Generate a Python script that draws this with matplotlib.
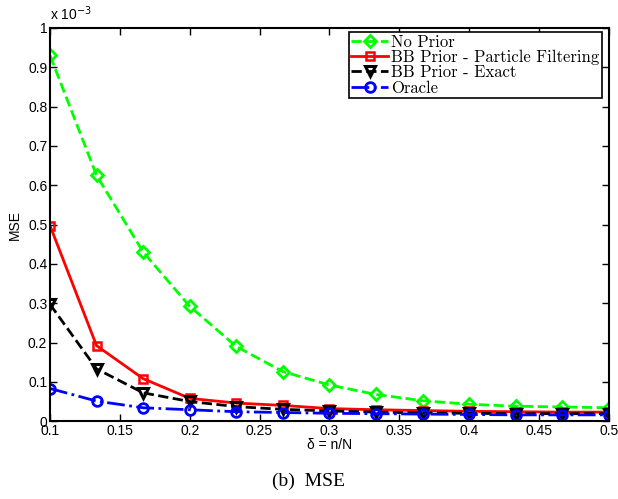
import numpy as np
import matplotlib
matplotlib.use('Agg')
import matplotlib.pyplot as plt

# values, in units of 1e-3
delta = [0.1, 0.1333, 0.1667, 0.2, 0.2333, 0.2667, 0.3, 0.3333, 0.3667, 0.4, 0.4333, 0.4667, 0.5]
no_prior = [0.93, 0.625, 0.43, 0.292, 0.19, 0.126, 0.092, 0.068, 0.052, 0.043, 0.038, 0.036, 0.034]
bb_pf = [0.497, 0.192, 0.108, 0.058, 0.046, 0.040, 0.032, 0.029, 0.027, 0.025, 0.024, 0.023, 0.023]
bb_exact = [0.297, 0.133, 0.072, 0.050, 0.037, 0.030, 0.026, 0.023, 0.021, 0.020, 0.019, 0.019, 0.019]
oracle = [0.083, 0.051, 0.034, 0.029, 0.024, 0.022, 0.020, 0.019, 0.018, 0.017, 0.016, 0.016, 0.016]

labels = ['No Prior', 'BB Prior - Particle Filtering', 'BB Prior - Exact', 'Oracle']

fig = plt.figure(figsize=(6.18, 4.99), dpi=100)
ax = fig.add_axes([0.081, 0.156, 0.904, 0.788])

ax.plot(delta, no_prior, '--', color='#00ff00', lw=2, marker='D', ms=6,
        mfc='none', mew=2, label=labels[0])
ax.plot(delta, bb_pf, '-', color='red', lw=2, marker='s', ms=6,
        mfc='none', mew=1.8, label=labels[1])
ax.plot(delta, bb_exact, '--', color='black', lw=2, marker='v', ms=7,
        mfc='none', mew=2.2, label=labels[2])
ax.plot(delta, oracle, '-.', color='blue', lw=2, marker='o', ms=7,
        mfc='none', mew=2, label=labels[3])

ax.set_xlim(0.1, 0.5)
ax.set_ylim(0, 1)
ax.set_xticks(np.arange(0.1, 0.501, 0.05))
ax.set_xticklabels(['0.1', '0.15', '0.2', '0.25', '0.3', '0.35', '0.4', '0.45', '0.5'])
ax.set_yticks(np.arange(0, 1.001, 0.1))
ax.set_yticklabels(['0', '0.1', '0.2', '0.3', '0.4', '0.5', '0.6', '0.7', '0.8', '0.9', '1'])
ax.tick_params(direction='in', top=True, right=True, length=5, width=1,
               labelsize=10, pad=2)
for lab in ax.get_xticklabels() + ax.get_yticklabels():
    lab.set_family('Liberation Sans')
for s in ax.spines.values():
    s.set_linewidth(1.5)

ax.set_xlabel('δ = n/N', family='Liberation Sans', fontsize=10, labelpad=0)
ax.set_ylabel('MSE', family='Liberation Sans', fontsize=10, labelpad=4)
ax.text(0, 1.012, r'x 10$^{-3}$', transform=ax.transAxes, fontsize=10,
        family='Liberation Sans', ha='left', va='bottom')

leg = ax.legend(loc='upper right', bbox_to_anchor=(0.988, 0.99), borderaxespad=0,
                prop={'family': 'cmr10', 'size': 12}, fancybox=False,
                edgecolor='black', framealpha=1, labelspacing=0.0,
                handlelength=2.2, handletextpad=0.2, borderpad=0.15)
leg.get_frame().set_linewidth(1.2)

fig.text(0.5, 0.035, '(b)  MSE', ha='center', va='center',
         family='Liberation Serif', fontsize=14)

fig.savefig('out.png', dpi=100)
